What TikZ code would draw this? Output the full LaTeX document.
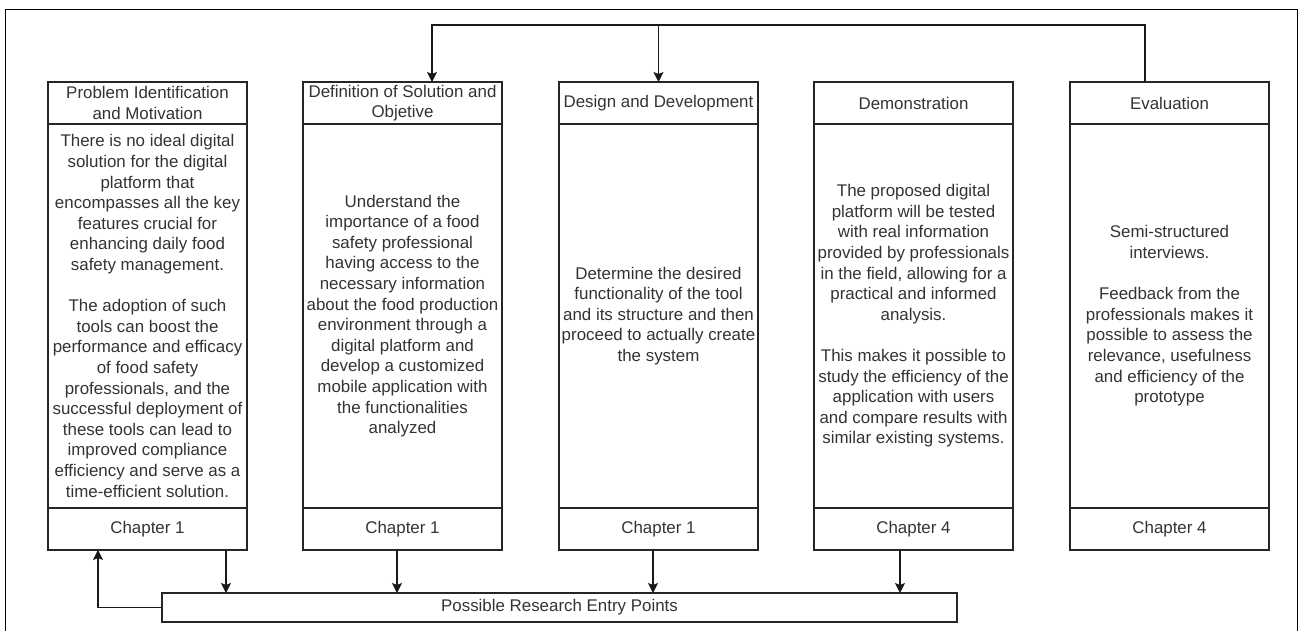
\documentclass[tikz,border=0pt]{standalone}
\usepackage{fontspec}
\setmainfont{Liberation Sans}
\usetikzlibrary{positioning, arrows.meta}
\definecolor{txtgray}{HTML}{333333}
\tikzset{
    colbox/.style={draw=black!85, line width=1.1pt, minimum width=199pt, anchor=north west,
        inner sep=0pt, outer sep=0pt, align=center, text=txtgray,
        font=\fontsize{16.9}{20.6}\selectfont},
    colhead/.style={colbox, minimum height=42pt},
    colbody/.style={colbox, minimum height=384pt},
    arr/.style={-{Stealth[length=10pt,width=10pt,inset=2pt]}, line width=1.1pt, draw=black!90},
}

\begin{document}
\begin{tikzpicture}[x=1pt, y=-1pt]
    \useasboundingbox (0,0) rectangle (1299,631);
    \draw[line width=1pt] (5,640) -- (5,10) -- (1297,10) -- (1297,640);

    \node[colhead] (probhead) at (48,82) {Problem Identification\\and Motivation};
    \node[colbody, below=0pt of probhead] (probbody) {There is no ideal digital\\solution for the digital\\platform that\\encompasses all the key\\features crucial for\\enhancing daily food\\safety management.\\[20.6pt]The adoption of such\\tools can boost the\\performance and efficacy\\of food safety\\professionals, and the\\successful deployment of\\these tools can lead to\\improved compliance\\efficiency and serve as a\\time-efficient solution.};
    \node[colhead, below=0pt of probbody] (probchap) {Chapter 1};

    \node[colhead] (defhead) at (303,82) {Definition of Solution and\\Objetive};
    \node[colbody, below=0pt of defhead] (defbody) {Understand the\\importance of a food\\safety professional\\having access to the\\necessary information\\about the food production\\environment through a\\digital platform and\\develop a customized\\mobile application with\\the functionalities\\analyzed};
    \node[colhead, below=0pt of defbody] (defchap) {Chapter 1};

    \node[colhead] (deshead) at (559,82) {Design and Development};
    \node[colbody, below=0pt of deshead] (desbody) {Determine the desired\\functionality of the tool\\and its structure and then\\proceed to actually create\\the system};
    \node[colhead, below=0pt of desbody] (deschap) {Chapter 1};

    \node[colhead] (demohead) at (814,82) {Demonstration};
    \node[colbody, below=0pt of demohead] (demobody) {The proposed digital\\platform will be tested\\with real information\\provided by professionals\\in the field, allowing for a\\practical and informed\\analysis.\\[20.6pt]This makes it possible to\\study the efficiency of the\\application with users\\and compare results with\\similar existing systems.};
    \node[colhead, below=0pt of demobody] (demochap) {Chapter 4};

    \node[colhead] (evalhead) at (1070,82) {Evaluation};
    \node[colbody, below=0pt of evalhead] (evalbody) {Semi-structured\\interviews.\\[20.6pt]Feedback from the\\professionals makes it\\possible to assess the\\relevance, usefulness\\and efficiency of the\\prototype};
    \node[colhead, below=0pt of evalbody] (evalchap) {Chapter 4};

    \node[colbox, minimum width=795pt, minimum height=29pt] (entry) at (162,593) {Possible Research Entry Points};

    \coordinate (railL) at (432,25);
    \draw[arr] ([xshift=-24.5pt]evalhead.north) |- (railL) -- (railL |- defhead.north);
    \draw[arr] (deshead.north |- railL) -- (deshead.north);

    \draw[arr] ([xshift=78.5pt]probchap.south) -- ([xshift=78.5pt]probchap.south |- entry.north);
    \draw[arr] ([xshift=-5.5pt]defchap.south) -- ([xshift=-5.5pt]defchap.south |- entry.north);
    \draw[arr] ([xshift=-5.5pt]deschap.south) -- ([xshift=-5.5pt]deschap.south |- entry.north);
    \draw[arr] ([xshift=-13.5pt]demochap.south) -- ([xshift=-13.5pt]demochap.south |- entry.north);
    \draw[arr] (entry.west) -| ([xshift=-49.5pt]probchap.south);
\end{tikzpicture}
\end{document}
